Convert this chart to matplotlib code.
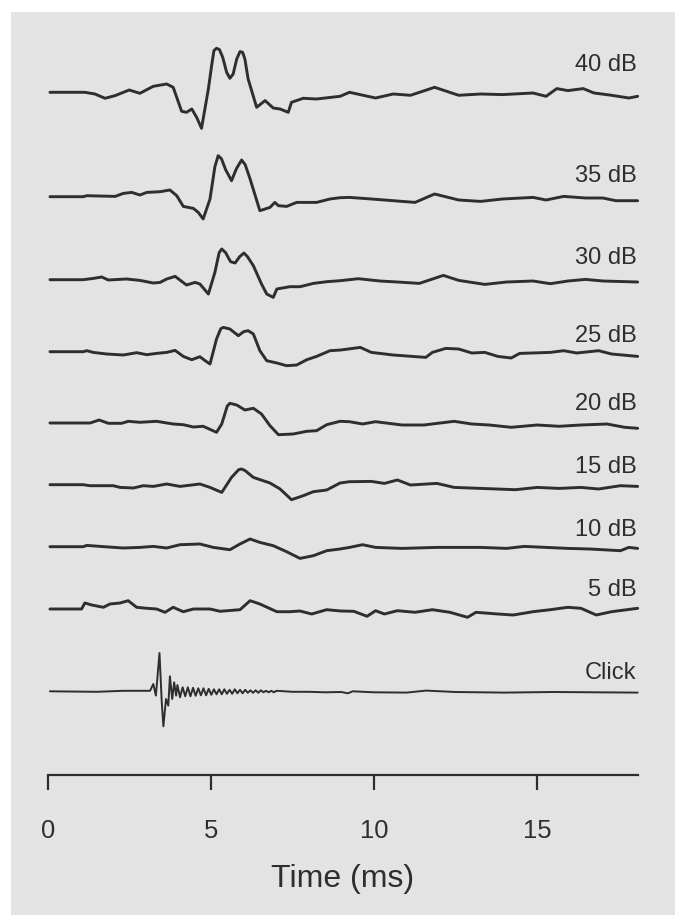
import matplotlib
matplotlib.use("Agg")
import matplotlib.pyplot as plt
from matplotlib.patches import Rectangle

plt.rcParams['font.family'] = ['Liberation Sans', 'DejaVu Sans']

# ---------------- data (time in ms, deflection in display units) ----------------
levels = ["40 dB", "35 dB", "30 dB", "25 dB", "20 dB", "15 dB", "10 dB", "5 dB", "Click"]

W40 = [(0.06,0),(1.13,0),(1.44,-1.7),(1.75,-6),(2.06,-3.3),(2.49,2.3),(2.82,-1),(3.23,6),(3.64,8.3),(3.84,5),
       (4.10,-19),(4.25,-20),(4.41,-16.7),(4.56,-25),(4.71,-36),(4.92,3.3),(5.02,26.7),(5.09,41.7),(5.17,44),
       (5.26,42.7),(5.36,35),(5.48,20),(5.58,14),(5.68,18.3),(5.79,33.3),(5.89,40.7),(5.97,40),(6.04,33.3),
       (6.14,13.3),(6.40,-15),(6.66,-8.3),(6.91,-15.7),(7.12,-16.7),(7.37,-20),(7.47,-10),(7.83,-6),(8.24,-6.7),
       (8.96,-4),(9.25,0),(10.05,-5.7),(10.59,-1.7),(11.12,-3),(11.86,5),(12.60,-3),(13.27,-1.7),(13.94,-2.3),
       (14.88,-0.7),(15.28,-4),(15.61,3.7),(15.95,1.7),(16.42,3.7),(16.75,-0.7),(17.29,-3),(17.82,-5.7),(18.09,-4)]

W35 = [(0.06,0),(1.08,0),(1.19,1),(2.06,0.3),(2.31,3.3),(2.57,4.3),(2.82,1.7),(3.03,4.3),(3.44,5),(3.74,6.7),
       (3.95,1),(4.15,-9.7),(4.46,-11.7),(4.61,-15.7),(4.76,-22.3),(4.97,-2.3),(5.12,30),(5.22,41),(5.32,38),
       (5.45,27),(5.63,16),(5.78,28),(5.94,36.7),(6.05,32),(6.20,17.7),(6.50,-14),(6.81,-10.7),(6.96,-5.7),
       (7.07,-9),(7.32,-9.7),(7.63,-5.7),(8.24,-5.7),(8.65,-2.3),(8.96,-1),(9.25,-0.7),(9.92,-2.3),(11.26,-5.7),
       (11.86,2.7),(12.60,-3.3),(13.27,-4.7),(13.94,-2.3),(14.88,-0.7),(15.28,-3.3),(15.82,0.3),(16.49,-1.3),
       (17.02,-1.3),(17.42,-4),(18.09,-4)]

W30 = [(0.06,0),(1.08,0),(1.39,1.3),(1.65,2.7),(1.85,-0.3),(2.41,0.7),(2.82,-0.7),(3.23,-3.3),(3.44,-2.7),
       (3.64,0.7),(3.90,3.3),(4.25,-5.3),(4.51,-2.7),(4.66,-4.3),(4.92,-14.3),(5.12,7.3),(5.25,27),(5.33,30.7),
       (5.45,27),(5.60,18),(5.74,16.7),(5.88,23),(6.01,26.7),(6.12,23),(6.30,14),(6.55,-4.3),(6.71,-14.3),
       (6.91,-17.7),(7.02,-9.3),(7.42,-7),(7.73,-7),(8.14,-3.7),(8.55,-2),(8.96,-1),(9.52,1),(10.18,-1.3),
       (10.72,-2.3),(11.39,-3.7),(12.13,4.3),(12.60,-0.7),(13.40,-4.7),(14.07,-2.3),(14.88,-1.3),(15.41,-4),
       (15.95,-1.3),(16.49,0.3),(17.02,-1.3),(18.09,-2.3)]

W25 = [(0.06,0),(1.08,0),(1.19,1),(1.39,-0.7),(1.80,-2.3),(2.31,-3.3),(2.72,-1),(3.03,-3),(3.33,-1.7),
       (3.64,-0.7),(3.90,1.3),(4.15,-4.7),(4.41,-8),(4.66,-5),(4.82,-9),(4.97,-12.3),(5.17,12.7),(5.30,23),
       (5.38,24.3),(5.58,22.7),(5.84,16),(6.00,20),(6.14,21),(6.30,17.7),(6.50,1),(6.71,-9),(7.02,-11.3),
       (7.32,-14),(7.63,-13.3),(7.94,-8),(8.24,-4.7),(8.65,1),(8.98,1.7),(9.58,4.3),(9.92,-0.7),(10.59,-3.3),
       (11.59,-5.7),(11.79,-0.7),(12.20,3.3),(12.60,2.7),(13.00,-1.3),(13.40,-0.7),(13.80,-4.7),(14.21,-6.3),
       (14.47,-1.7),(15.41,-0.7),(15.82,1),(16.22,-1.3),(16.89,1),(17.29,-2.3),(18.09,-4.7)]

W20 = [(0.06,0),(1.29,0),(1.57,3),(1.85,-0.3),(2.26,-0.3),(2.46,1.7),(2.82,0.7),(3.33,1.7),(3.84,-1),
       (4.15,-1.7),(4.46,-4),(4.76,-3.3),(5.17,-9.3),(5.33,-1),(5.50,17),(5.58,19.7),(5.79,18),(6.04,13),
       (6.30,14.7),(6.55,9),(6.81,-2.7),(7.07,-11.7),(7.52,-11),(7.94,-8.3),(8.24,-7.7),(8.55,-1.7),(8.96,1.7),
       (9.25,1.3),(9.65,-1),(10.05,1.3),(10.86,-2),(11.53,-2),(12.46,1.7),(13.00,-1),(13.54,-2),(14.21,-4.3),
       (15.01,-2),(15.68,-3.3),(16.35,-2),(17.15,-1),(17.69,-4.3),(18.09,-5.3)]

W15 = [(0.06,0),(1.08,0),(1.29,-1),(2.00,-1),(2.21,-2.7),(2.62,-3.3),(2.92,-1),(3.23,-1.7),(3.64,0.7),
       (4.05,-1.7),(4.66,0.7),(4.97,-2.7),(5.33,-7.7),(5.63,7.3),(5.85,15),(5.94,15.7),(6.05,14),(6.30,7.3),
       (6.81,1.7),(7.12,-4.3),(7.47,-15),(7.83,-11),(8.14,-7),(8.55,-5.3),(8.96,1.7),(9.25,3),(9.92,3.3),
       (10.32,1.3),(10.72,4.7),(11.12,-0.3),(11.93,1.3),(12.46,-2.7),(13.27,-3.7),(14.34,-5),(15.01,-2.7),
       (15.68,-3.7),(16.35,-2.7),(16.89,-4.3),(17.56,-1),(18.09,-1.7)]

W10 = [(0.06,0),(1.08,0),(1.19,1.3),(1.60,0.3),(2.31,-1.3),(2.82,-0.7),(3.23,0.3),(3.64,-1.3),(4.05,2),
       (4.66,2.7),(5.07,-0.7),(5.58,-3),(5.89,2.7),(6.20,7.7),(6.50,4.3),(6.91,1),(7.32,-5),(7.73,-11.7),
       (8.14,-9),(8.55,-4),(8.96,-2.3),(9.25,-0.7),(9.65,2),(10.05,-0.7),(10.86,-1.7),(11.93,-0.7),(13.27,-0.7),
       (14.07,-1.7),(14.61,0.3),(15.28,-0.7),(15.95,-1.7),(16.62,-2.3),(17.56,-4),(17.82,-0.7),(18.09,-1.7)]

W5 = [(0.06,0),(1.03,0),(1.13,6),(1.34,4),(1.70,1.7),(1.90,5),(2.21,6),(2.46,8.3),(2.72,1.7),(3.03,0.7),
      (3.33,0),(3.59,-3.3),(3.84,1.7),(4.15,-2.7),(4.46,0),(4.97,0),(5.28,-2.3),(5.89,-0.7),(6.20,8.3),(6.50,5),
      (7.02,-2.7),(7.42,-2.7),(7.73,-2),(8.09,-5),(8.55,-0.7),(8.98,-2),(9.38,-2.3),(9.79,-7.3),(10.05,-1.7),
      (10.32,-5),(10.72,-1.7),(11.26,-3.3),(11.79,-0.7),(12.33,-3.3),(12.87,-8.3),(13.13,-3.3),(13.80,-5),
      (14.27,-6),(14.88,-2.7),(15.41,-0.7),(15.95,1.7),(16.35,0.7),(16.82,-6),(17.29,-2.7),(18.09,0.7)]

WClick = [(0.06,0),(1.5,-0.5),(2.3,0.5),(3.13,0.5),(3.23,7.3),(3.31,-4.3),(3.42,38.3),(3.49,-11),(3.54,-35),
          (3.62,-7.7),(3.69,-14.3),(3.74,15),(3.81,-7.7),(3.87,9),(3.93,-4.3),(3.97,6.3),
          (4.05,-6),(4.13,4),(4.21,-5),(4.29,4),(4.37,-5),(4.45,3.5),(4.53,-4.5),(4.61,3),(4.69,-4),(4.77,3),
          (4.85,-4),(4.93,2.5),(5.01,-3.5),(5.09,2),(5.17,-3),(5.25,2),(5.33,-3),(5.41,2),(5.49,-2.5),(5.57,1.5),
          (5.65,-2.5),(5.73,2),(5.81,-2),(5.89,1.5),(5.97,-2),(6.05,1.5),(6.13,-1.5),(6.21,1),(6.29,-1.5),
          (6.37,1),(6.45,-1.5),(6.53,1),(6.61,-1),(6.69,0.5),(6.77,-1),(6.85,0.5),(6.93,-1),(7.01,0.5),
          (7.5,-0.5),(8.0,-0.5),(8.5,-1),(9.0,-0.7),(9.2,-2),(9.35,0),(10.0,-1),(11.0,-1.3),(11.6,0.7),
          (12.5,-0.7),(14.0,-1.3),(15.5,-0.7),(18.09,-1.3)]

waves = [W40, W35, W30, W25, W20, W15, W10, W5, WClick]

x_ticks = [0, 5, 10, 15]
x_label = "Time (ms)"

# ---------------- layout (pixel rows of baselines / labels) ----------------
W, H = 685, 920
baseline_px = [93.3, 197.7, 280.7, 352.7, 424.0, 485.7, 547.7, 610.0, 692.3]
label_px = [64.7, 176.0, 258.3, 336.0, 404.0, 466.7, 530.0, 590.0, 672.7]
ink = '#2e2e2e'

fig = plt.figure(figsize=(W / 100, H / 100), dpi=100)
fig.patch.set_facecolor('white')
fig.patches.append(Rectangle((11 / W, 4 / H), (675 - 11) / W, (907 - 4) / H,
                             transform=fig.transFigure, facecolor='#e3e3e3',
                             edgecolor='none', zorder=-10))

x0, x1 = 48, 638
y_top, y_axis = 20, 776
ax = fig.add_axes([x0 / W, (H - y_axis) / H, (x1 - x0) / W, (y_axis - y_top) / H])
ax.set_facecolor('none')
ax.set_xlim(0, 18.1)
ax.set_ylim(y_axis, y_top)

for wave, base, lab, ly in zip(waves, baseline_px, levels, label_px):
    t = [p[0] for p in wave]
    a = [base - p[1] for p in wave]
    lw = 1.4 if lab == "Click" else 2.1
    ax.plot(t, a, color=ink, lw=lw, solid_joinstyle='round', solid_capstyle='round', clip_on=False)
    ax.text(18.05, ly, lab, ha='right', va='center', fontsize=17, color=ink)

for s in ['left', 'right', 'top']:
    ax.spines[s].set_visible(False)
ax.spines['bottom'].set_color(ink)
ax.spines['bottom'].set_linewidth(1.6)
ax.set_yticks([])
ax.set_xticks(x_ticks)
ax.set_xticklabels([str(v) for v in x_ticks])
ax.tick_params(axis='x', direction='out', length=10.8, width=1.6, color=ink,
               labelsize=18.4, labelcolor=ink, pad=20)
ax.set_xlabel(x_label, fontsize=23, color=ink, labelpad=15)

fig.savefig('out.png', dpi=100, facecolor='white')
